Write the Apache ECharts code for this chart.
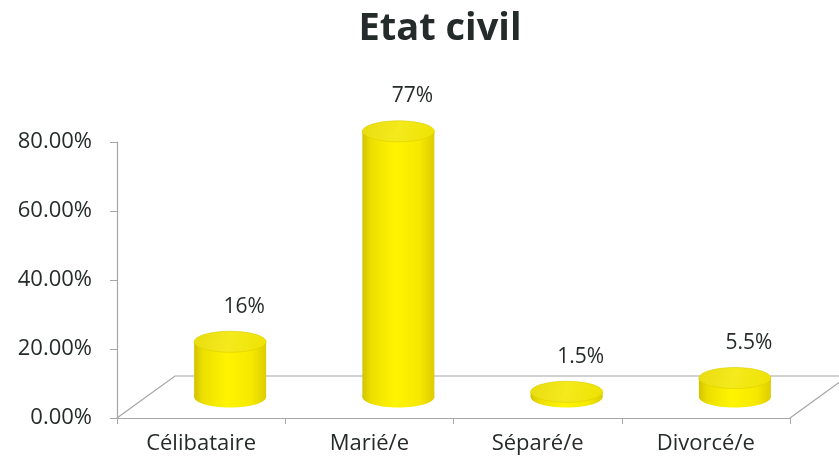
<!DOCTYPE html>
<html>
<head>
<meta charset="utf-8">
<script src="https://cdn.jsdelivr.net/npm/echarts@6/dist/echarts.min.js"></script>
<style>
  html, body { margin: 0; padding: 0; background: #ffffff; }
  #chart { width: 839px; height: 468px; }
</style>
</head>
<body>
<div id="chart"></div>
<script>
// Marital status shares (percent)
const categories = ['Célibataire', 'Marié/e', 'Séparé/e', 'Divorcé/e'];
const shares = [16, 77, 1.5, 5.5];
const yTicks = [0, 20, 40, 60, 80];

const TEXT = '#252b2a';
const EDGE = '#a6a6a6';
const DEPTH_X = 58;   // floor depth, horizontal shift
const DEPTH_Y = -42;  // floor depth, vertical shift

const chart = echarts.init(document.getElementById('chart'), null, { renderer: 'canvas' });

// Oblique floor behind the category axis
function renderFloor(params, api) {
  const cs = params.coordSys;
  const x0 = cs.x, x1 = cs.x + cs.width, yb = cs.y + cs.height;
  return {
    type: 'polyline',
    shape: {
      points: [
        [x0, yb], [x0 + DEPTH_X, yb + DEPTH_Y],
        [x1 + DEPTH_X, yb + DEPTH_Y], [x1, yb]
      ]
    },
    style: { stroke: EDGE, lineWidth: 1.2, fill: null },
    silent: true
  };
}

// One cylinder per category, standing in the middle of the floor depth
function renderCylinder(params, api) {
  const idx = api.value(0);
  const val = api.value(1);
  const base = api.coord([idx, 0]);
  const top = api.coord([idx, val]);
  const cx = base[0] + DEPTH_X / 2;
  const by = base[1] + DEPTH_Y / 2;
  const ty = top[1] + DEPTH_Y / 2;
  const rx = 36, ry = 10.5;
  const bodyFill = new echarts.graphic.LinearGradient(0, 0, 1, 0, [
    { offset: 0, color: '#d2c300' },
    { offset: 0.12, color: '#ecdf00' },
    { offset: 0.45, color: '#fff400' },
    { offset: 0.8, color: '#f6e900' },
    { offset: 1, color: '#dccd00' }
  ]);
  return {
    type: 'group',
    children: [
      {
        type: 'ellipse',
        shape: { cx: cx, cy: by, rx: rx, ry: ry },
        style: { fill: bodyFill }
      },
      {
        type: 'rect',
        shape: { x: cx - rx, y: ty, width: rx * 2, height: Math.max(by - ty, 0) },
        style: { fill: bodyFill }
      },
      {
        type: 'ellipse',
        shape: { cx: cx, cy: ty, rx: rx, ry: ry },
        style: {
          fill: new echarts.graphic.LinearGradient(0, 0, 1, 1, [
            { offset: 0, color: '#e8dc10' },
            { offset: 0.5, color: '#f4ea1c' },
            { offset: 1, color: '#eee200' }
          ]),
          stroke: '#dccf00', lineWidth: 0.6
        }
      },
      {
        type: 'text',
        x: cx + 14,
        y: ty - 35,
        style: {
          text: val + '%',
          fill: TEXT,
          font: '21px "Open Sans", sans-serif',
          align: 'center',
          verticalAlign: 'middle'
        }
      }
    ]
  };
}

chart.setOption({
  backgroundColor: '#ffffff',
  animation: false,
  title: {
    text: 'Etat civil',
    left: 435,
    top: 5,
    textAlign: 'center',
    textStyle: { fontFamily: 'Open Sans', fontWeight: 'bold', fontSize: 38, color: TEXT }
  },
  grid: { left: 117, right: 49, top: 142, bottom: 50, containLabel: false },
  xAxis: {
    type: 'category',
    data: categories,
    boundaryGap: true,
    axisLine: { show: true, lineStyle: { color: EDGE, width: 1.2 } },
    axisTick: { show: true, length: 6, lineStyle: { color: EDGE } },
    axisLabel: { color: TEXT, fontFamily: 'Open Sans', fontSize: 22, margin: 15 },
    splitLine: { show: false }
  },
  yAxis: {
    type: 'value',
    min: yTicks[0],
    max: yTicks[yTicks.length - 1],
    interval: yTicks[1] - yTicks[0],
    axisLine: { show: true, lineStyle: { color: EDGE, width: 1.2 } },
    axisTick: { show: true, length: 7, lineStyle: { color: EDGE } },
    axisLabel: {
      color: TEXT, fontFamily: 'Open Sans', fontSize: 22, margin: 25,
      formatter: v => v.toFixed(2) + '%'
    },
    splitLine: { show: false }
  },
  series: [
    {
      type: 'custom',
      renderItem: renderFloor,
      data: [[0, 0]],
      silent: true,
      z: 1
    },
    {
      type: 'custom',
      renderItem: renderCylinder,
      data: shares.map((v, i) => [i, v]),
      encode: { x: 0, y: 1 },
      z: 2
    }
  ]
});
</script>
</body>
</html>
